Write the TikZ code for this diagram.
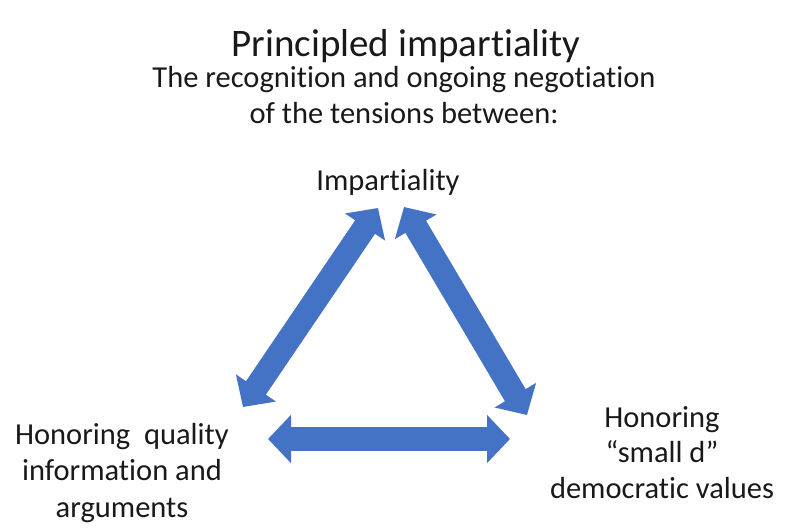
\documentclass[tikz,border=0pt]{standalone}
\usepackage{fontspec}
\setmainfont{Carlito}[Ligatures={NoCommon}]
\usetikzlibrary{arrows.meta}
\definecolor{officeblue}{HTML}{4472C4}
\begin{document}
\begin{tikzpicture}[x=1pt, y=-1pt,
    label/.style={inner sep=0pt, anchor=base, align=center, text=black!90,
      font=\fontsize{30.5}{36}\selectfont},
    twoway/.style={draw=officeblue, line width=24pt,
      {Triangle[width=47pt,length=23pt]}-{Triangle[width=47pt,length=23pt]}}]
    % Fix the page size
    \useasboundingbox (0,0) rectangle (789,532);

    % Draw the heading
    \node[label, font=\fontsize{39}{44}\selectfont] (title) at (406,57) {Principled impartiality};
    \node[label] (sub) at (404,124) {The recognition and ongoing negotiation\\of the tensions between:};

    % Draw the three corners
    \node[label] (imp) at (388,190) {Impartiality};
    \node[label, font=\fontsize{30.5}{36.5}\selectfont] (qual) at (122,517) {Honoring\ \ quality\\information and\\arguments};
    \node[label, font=\fontsize{30.5}{35.5}\selectfont] (demo) at (662,498) {Honoring\\“small d”\\democratic values};

    % Arrow ends
    \coordinate (imp-l) at (378,208);
    \coordinate (imp-r) at (404,207);
    \coordinate (qual-t) at (243,407);
    \coordinate (qual-r) at (268,439);
    \coordinate (demo-t) at (527,415);
    \coordinate (demo-l) at (510,439);

    % Draw the tensions
    \draw[twoway] (qual-t) -- (imp-l);
    \draw[twoway] (imp-r) -- (demo-t);
    \draw[twoway] (qual-r) -- (demo-l);
\end{tikzpicture}
\end{document}
